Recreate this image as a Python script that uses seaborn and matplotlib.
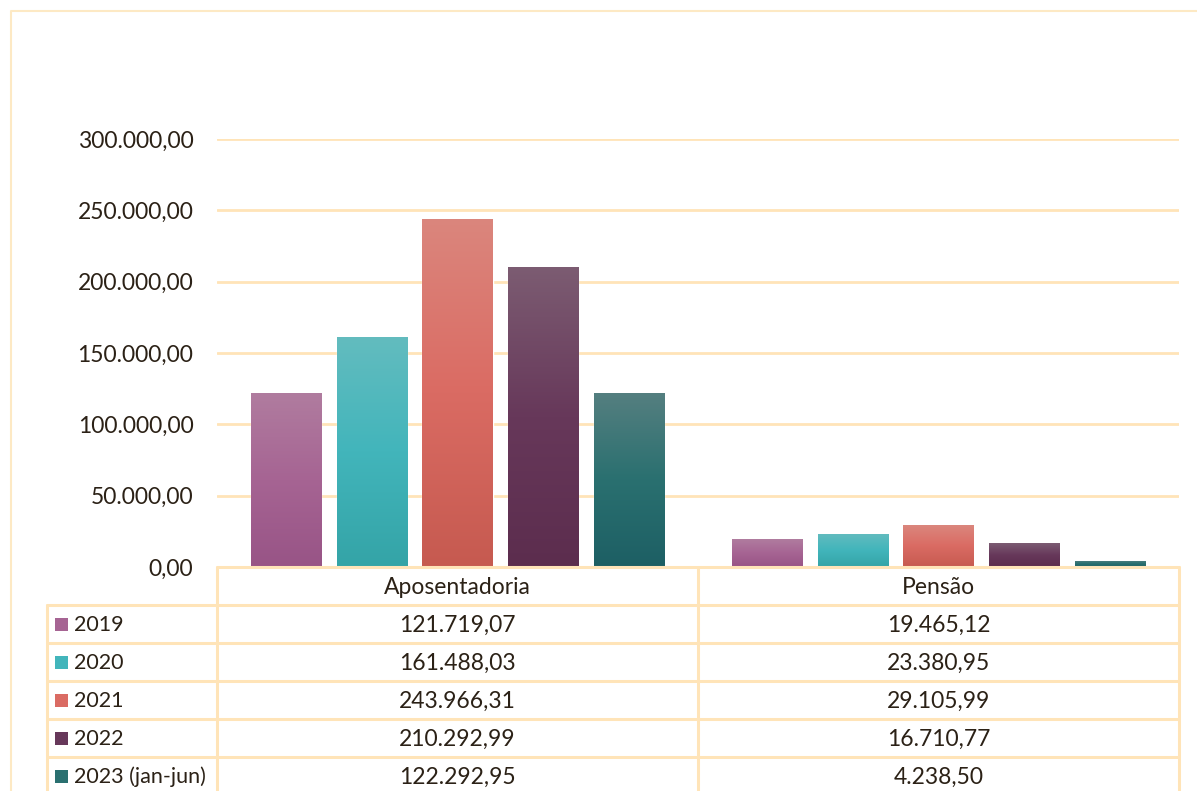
import numpy as np
import pandas as pd
import matplotlib
matplotlib.use('Agg')
import matplotlib.pyplot as plt
import matplotlib.colors as mcolors
from matplotlib.ticker import FuncFormatter
import seaborn as sns

# Data
categorias = ['Aposentadoria', 'Pensão']
anos = ['2019', '2020', '2021', '2022', '2023 (jan-jun)']
aposentadoria = [121719.07, 161488.03, 243966.31, 210292.99, 122292.95]
pensao = [19465.12, 23380.95, 29105.99, 16710.77, 4238.50]

# Gradient colors per year (top, middle, bottom)
grad_cores = {
    '2019': ['#b07c9f', '#a66493', '#985486'],
    '2020': ['#63bcbf', '#42b5bb', '#34a4a7'],
    '2021': ['#db867d', '#da6b63', '#c65a50'],
    '2022': ['#7c5c72', '#67385a', '#5c2d4e'],
    '2023 (jan-jun)': ['#557f80', '#2a7070', '#1d5f64'],
}
paleta = [grad_cores[a][1] for a in anos]

df = pd.DataFrame({
    'categoria': np.repeat(categorias, len(anos)),
    'ano': anos * 2,
    'valor': aposentadoria + pensao,
})

def fmt_br(v, pos=None):
    return f'{v:,.2f}'.replace(',', 'X').replace('.', ',').replace('X', '.')

sns.set_style('white')
plt.rcParams['font.family'] = ['Lato', 'DejaVu Sans']
texto_cor = '#2b2116'
linha_cor = '#ffe4b8'
fs = 16.5

W, H = 1197, 791
fig = plt.figure(figsize=(W / 100, H / 100), dpi=100)

# Bar axes, placed in pixel layout
x0, x1, y_top, y_zero = 217, 1179, 139, 567
ax = fig.add_axes([x0 / W, 1 - y_zero / H, (x1 - x0) / W, (y_zero - y_top) / H])
sns.barplot(data=df, x='categoria', y='valor', hue='ano', hue_order=anos,
            palette=paleta, width=0.89, gap=0.18, legend=False, ax=ax,
            saturation=1, zorder=3)
ax.set_yticks(np.arange(0, 300001, 50000))
ax.yaxis.set_major_formatter(FuncFormatter(fmt_br))
ax.tick_params(axis='y', labelsize=fs, labelcolor=texto_cor, length=0, pad=17)
ax.set_xticks([])
ax.set_xlabel('')
ax.set_ylabel('')
ax.grid(axis='y', color=linha_cor, lw=2)
ax.set_axisbelow(True)
for s in ax.spines.values():
    s.set_visible(False)

# Gradient fills on the bars
grad = np.linspace(0, 1, 256).reshape(-1, 1)
for ano, cont in zip(anos, ax.containers):
    cmap = mcolors.LinearSegmentedColormap.from_list(ano, grad_cores[ano][::-1])
    for bar in cont.patches:
        bx, by = bar.get_x(), bar.get_y()
        bw, bh = bar.get_width(), bar.get_height()
        im = ax.imshow(grad, cmap=cmap, origin='lower', aspect='auto',
                       extent=[bx, bx + bw, by, by + bh], zorder=4)
        im.set_clip_path(bar)
ax.set_xlim(-0.5, 1.5)
ax.set_ylim(0, 300000)

# Overlay in pixel coordinates for the data table and border
ov = fig.add_axes([0, 0, 1, 1], zorder=5)
ov.set_xlim(0, W)
ov.set_ylim(H, 0)
ov.axis('off')
ov.patch.set_alpha(0)

# chart border
ov.plot([11, 11, W + 5], [H + 5, 11, 11], color='#fde9c4', lw=1.5)

col_x = [47, 217, 698, 1179]
row_y = [567, 605, 643, 681, 719, 757, 795]
lw = 2.2
ov.plot([217, 1179], [567, 567], color=linha_cor, lw=lw)
for y in row_y[1:-1]:
    ov.plot([47, 1179], [y, y], color=linha_cor, lw=lw)
ov.plot([47, 47], [605, H + 5], color=linha_cor, lw=lw)
for x in col_x[1:]:
    ov.plot([x, x], [567, H + 5], color=linha_cor, lw=lw)

for i, cat in enumerate(categorias):
    cx = (col_x[i + 1] + col_x[i + 2]) / 2
    ov.text(cx, 587, cat, ha='center', va='center', fontsize=fs, color=texto_cor)

valores = [aposentadoria, pensao]
for j, ano in enumerate(anos):
    cy = (row_y[j + 1] + row_y[j + 2]) / 2
    ov.add_patch(plt.Rectangle((55, cy - 6.5), 13, 13,
                               color=grad_cores[ano][1], lw=0))
    ov.text(74, cy + 1, ano, ha='left', va='center', fontsize=15.5, color=texto_cor)
    for i in range(2):
        cx = (col_x[i + 1] + col_x[i + 2]) / 2
        ov.text(cx, cy + 1, fmt_br(valores[i][j]), ha='center', va='center',
                fontsize=fs, color=texto_cor)

fig.savefig('out.png', dpi=100)
